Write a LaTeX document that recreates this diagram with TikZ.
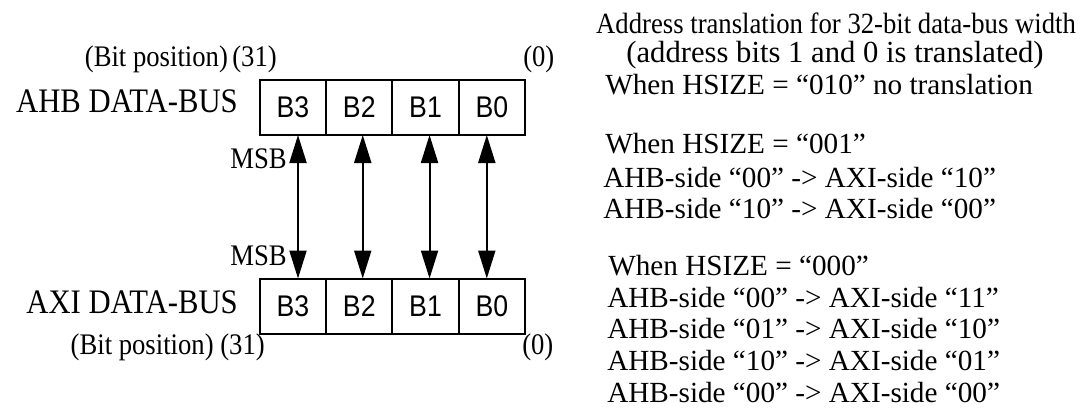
\documentclass[tikz,border=0pt]{standalone}
\usepackage{fontspec}
\setmainfont{Liberation Serif}
\setsansfont{Liberation Sans}
\usetikzlibrary{arrows.meta,positioning}

% the bus side lettering is drawn a little taller than wide
\newcommand{\tallbus}[1]{\scalebox{1}[1.12]{#1}}

\tikzset{
  byte/.style={draw, line width=1.5pt, minimum width=49.7pt, minimum height=41.25pt,
    inner sep=0pt, outer sep=0pt, font=\sffamily\fontsize{20}{24}\selectfont},
  busname/.style={inner sep=0pt, anchor=base east, font=\fontsize{23}{27}\selectfont},
  tag/.style={inner sep=0pt, font=\fontsize{20}{24}\selectfont},
  note/.style={inner sep=0pt, anchor=base west, font=\fontsize{21.9}{26}\selectfont},
  lane/.style={line width=1.5pt,
    {Triangle[length=21pt,width=12.75pt]}-{Triangle[length=21pt,width=12.75pt]}}
}

\begin{document}
\begin{tikzpicture}[x=0.75pt,y=-0.75pt]
	\useasboundingbox (0,0) rectangle (1080,408);
	% AHB side
	\path (293,107.5) node (a3) [byte] {\tallbus{B3}};
	\node (a2) [byte, right=0pt of a3] {\tallbus{B2}};
	\node (a1) [byte, right=0pt of a2] {\tallbus{B1}};
	\node (a0) [byte, right=0pt of a1] {\tallbus{B0}};
	% AXI side
	\path (293,306) node (x3) [byte] {\tallbus{B3}};
	\node (x2) [byte, right=0pt of x3] {\tallbus{B2}};
	\node (x1) [byte, right=0pt of x2] {\tallbus{B1}};
	\node (x0) [byte, right=0pt of x1] {\tallbus{B0}};

	\path (238,112) node (ahb) [busname] {\tallbus{AHB DATA-BUS}}
		  (238,313) node (axi) [busname] {\tallbus{AXI DATA-BUS}}
		  (277,66) node (ahbpos) [tag, anchor=base east] {\tallbus{(Bit position)\,(31)}}
		  (523,66) node (ahbzero) [tag, anchor=base west] {\tallbus{(0)}}
		  (265,354) node (axipos) [tag, anchor=base east] {\tallbus{(Bit position) (31)}}
		  (522,354) node (axizero) [tag, anchor=base west] {\tallbus{(0)}}
		  (287,168) node (msbtop) [tag, anchor=base east] {\tallbus{MSB}}
		  (287,265) node (msbbot) [tag, anchor=base east] {\tallbus{MSB}};

	\draw[lane] ([xshift=3.75pt]x3.north) -- ([xshift=3.75pt]a3.south);
	\draw[lane] ([xshift=2.6pt]x2.north) -- ([xshift=2.6pt]a2.south);
	\draw[lane] ([xshift=3pt]x1.north) -- ([xshift=3pt]a1.south);
	\draw[lane] ([xshift=-3.75pt]x0.north) -- ([xshift=-3.75pt]a0.south);

	% translation notes
	\path (836,33) node (title) [note, anchor=base, font=\fontsize{22}{26}\selectfont] {\scalebox{0.91}[1]{Address translation for 32-bit data-bus width}}
		  (835,62) node (subtitle) [note, anchor=base, font=\fontsize{23}{27}\selectfont] {(address bits 1 and 0 is translated)}
		  (605,94) node (w010) [note] {When HSIZE = “010” no translation}
		  (605,153) node (w001) [note] {When HSIZE = “001”}
		  (603,187) node (m1a) [note] {AHB-side “00” -> AXI-side “10”}
		  (603,218) node (m1b) [note] {AHB-side “10” -> AXI-side “00”}
		  (608,275) node (w000) [note] {When HSIZE = “000”}
		  (607,307) node (m2a) [note] {AHB-side “00” -> AXI-side “11”}
		  (607,338) node (m2b) [note] {AHB-side “01” -> AXI-side “10”}
		  (607,370) node (m2c) [note] {AHB-side “10” -> AXI-side “01”}
		  (607,402) node (m2d) [note] {AHB-side “00” -> AXI-side “00”};
\end{tikzpicture}
\end{document}
